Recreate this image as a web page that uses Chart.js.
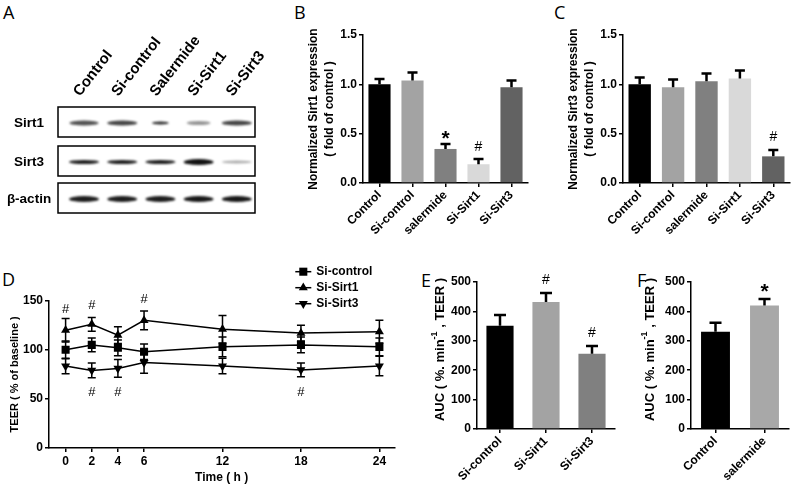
<!DOCTYPE html>
<html>
<head>
<meta charset="utf-8">
<script src="https://cdn.jsdelivr.net/npm/chart.js@4.4.0/dist/chart.umd.min.js"></script>
<style>
  body { margin: 0; background: #fff; }
  #wrap { position: relative; width: 796px; height: 485px; overflow: hidden; background: #fff; }
  canvas { position: absolute; }
  .letter { position: absolute; font-family: 'Open Sans', sans-serif; font-size: 18px; color: #000; line-height: 1; }
</style>
</head>
<body>
<div id="wrap">
  <div class="letter" style="left:3px;top:3px">A</div>
  <div class="letter" style="left:294px;top:3px">B</div>
  <div class="letter" style="left:554px;top:3px">C</div>
  <div class="letter" style="left:2px;top:270px">D</div>
  <div class="letter" style="left:421px;top:271px">E</div>
  <div class="letter" style="left:637px;top:271px">F</div>
  <canvas id="blot" width="280" height="230" style="left:0;top:0"></canvas>
  <canvas id="chartB" width="255" height="240" style="left:280px;top:0"></canvas>
  <canvas id="chartC" width="256" height="240" style="left:540px;top:0"></canvas>
  <canvas id="chartD" width="400" height="255" style="left:0;top:230px"></canvas>
  <canvas id="chartE" width="220" height="255" style="left:400px;top:230px"></canvas>
  <canvas id="chartF" width="186" height="255" style="left:610px;top:230px"></canvas>
</div>
<script>
// ---- A: western blot ----
const blotLanes = ['Control', 'Si-control', 'Salermide', 'Si-Sirt1', 'Si-Sirt3'];
const blotRows = ['Sirt1', 'Sirt3', 'β-actin'];
const bandSirt1 = [0.72, 0.78, 0.9, 0.45, 0.78];
const bandSirt3 = [0.95, 0.95, 0.95, 1.0, 0.35];
const bandActin = [0.95, 0.95, 0.95, 0.97, 0.97];
const bandWidthSirt1 = [29, 30, 17, 24, 30];

// ---- B / C: normalized expression ----
const groups = ['Control', 'Si-control', 'salermide', 'Si-Sirt1', 'Si-Sirt3'];
const groupColors = ['#000000', '#a3a3a3', '#808080', '#d9d9d9', '#626262'];
const sirt1Mean = [1.00, 1.04, 0.345, 0.19, 0.97];
const sirt1Err = [0.055, 0.08, 0.05, 0.053, 0.07];
const sirt1Sig = [[2, 0.49, '*'], [3, 0.365, '#']];
const sirt3Mean = [1.00, 0.97, 1.03, 1.06, 0.27];
const sirt3Err = [0.07, 0.08, 0.08, 0.08, 0.065];
const sirt3Sig = [[4, 0.46, '#']];

// ---- D: TEER time course ----
const hours = [0, 2, 4, 6, 12, 18, 24];
const teerSiControl = [100, 105, 102, 98, 103, 105, 103];
const teerSiControlErr = [9, 7, 8, 8, 10, 8, 9];
const teerSiSirt1 = [120, 126, 115, 130, 121, 117, 118.5];
const teerSiSirt1Err = [12, 7, 8.5, 9.5, 14, 8, 11.5];
const teerSiSirt3 = [83.5, 79, 81, 87, 83.5, 79.5, 83.5];
const teerSiSirt3Err = [8, 7.5, 9, 11, 8, 7, 10];
const teerSig = [[0, 141.5, '#'], [2, 145.5, '#'], [6, 151, '#'], [2, 56.5, '#'], [4, 56.5, '#'], [18, 56.5, '#']];

// ---- E / F: AUC ----
const aucGroupsE = ['Si-control', 'Si-Sirt1', 'Si-Sirt3'];
const aucColorsE = ['#000000', '#a3a3a3', '#808080'];
const aucE = [351, 432, 256];
const aucErrE = [37, 31, 26];
const aucSigE = [[1, 507, '#'], [2, 327, '#']];
const aucGroupsF = ['Control', 'salermide'];
const aucColorsF = ['#000000', '#a8a8a8'];
const aucF = [331, 420];
const aucErrF = [30, 22];
const aucSigF = [[1, 483, '*']];

const FAM = "'Liberation Sans', Arial, sans-serif";
const tickFont = { family: FAM, size: 12, weight: 'bold' };

// blot is a photo, drawn straight on its canvas
function drawBlot() {
  const ctx = document.getElementById('blot').getContext('2d');
  const boxX = 58, boxW = 197, boxH = 30, boxTops = [107, 146, 183];
  const lane0 = 84, laneStep = 38.2;
  ctx.fillStyle = '#000';
  ctx.font = "bold 15px " + FAM;
  ctx.textBaseline = 'alphabetic';
  blotLanes.forEach((t, i) => {
    ctx.save();
    ctx.translate(lane0 + i * laneStep - 4, 97);
    ctx.rotate(-52 * Math.PI / 180);
    ctx.fillText(t, 0, 0);
    ctx.restore();
  });
  const rows = [bandSirt1, bandSirt3, bandActin];
  const thick = [[5, 5, 3, 4, 5], [4, 4, 4, 6, 3], [6, 6, 6, 6, 6]];
  rows.forEach((bands, j) => {
    const top = boxTops[j];
    ctx.lineWidth = 1.5;
    ctx.strokeStyle = '#000';
    ctx.strokeRect(boxX, top, boxW, boxH);
    ctx.font = "bold 13.5px " + FAM;
    ctx.textAlign = 'center';
    ctx.textBaseline = 'middle';
    ctx.fillText(blotRows[j], 29, top + boxH / 2 + 1);
    bands.forEach((a, i) => {
      const w = j === 0 ? bandWidthSirt1[i] : 30;
      ctx.save();
      ctx.filter = 'blur(1.1px)';
      ctx.globalAlpha = a;
      ctx.fillStyle = '#111';
      ctx.beginPath();
      ctx.ellipse(lane0 + i * laneStep, top + boxH / 2 + 1, w / 2, thick[j][i] / 2, 0, 0, Math.PI * 2);
      ctx.fill();
      ctx.restore();
    });
  });
}
drawBlot();

// error bars through the chart scales
const errorBars = {
  id: 'errorBars',
  beforeDatasetsDraw(chart, args, opts) { if (opts.behind) draw(chart, opts); },
  afterDatasetsDraw(chart, args, opts) { if (!opts.behind) draw(chart, opts); }
};
function draw(chart, opts) {
  const { ctx } = chart;
  const ys = chart.scales.y;
  chart.data.datasets.forEach((ds, di) => {
    if (!ds.errors) return;
    const meta = chart.getDatasetMeta(di);
    ctx.save();
    ctx.strokeStyle = '#000';
    ctx.lineWidth = opts.width || 2;
    meta.data.forEach((el, i) => {
      const raw = ds.data[i];
      const v = typeof raw === 'object' ? raw.y : raw;
      const e = ds.errors[i];
      const yTop = ys.getPixelForValue(v + e);
      const yBot = opts.both ? ys.getPixelForValue(v - e) : ys.getPixelForValue(v);
      const c = opts.cap / 2;
      ctx.beginPath();
      ctx.moveTo(el.x, yBot); ctx.lineTo(el.x, yTop);
      ctx.moveTo(el.x - c, yTop); ctx.lineTo(el.x + c, yTop);
      if (opts.both) { ctx.moveTo(el.x - c, yBot); ctx.lineTo(el.x + c, yBot); }
      ctx.stroke();
    });
    ctx.restore();
  });
}

// # and * marks
const sigMarks = {
  id: 'sigMarks',
  afterDraw(chart, args, opts) {
    if (!opts.marks) return;
    const { ctx } = chart;
    const xs = chart.scales.x, ys = chart.scales.y;
    ctx.save();
    ctx.fillStyle = '#000';
    ctx.textAlign = 'center';
    ctx.textBaseline = 'middle';
    opts.marks.forEach(m => {
      const star = m[2] === '*';
      ctx.font = star ? "bold 21px " + FAM : (opts.small ? "13px " : "14px ") + FAM;
      ctx.fillText(m[2], xs.getPixelForValue(m[0]), ys.getPixelForValue(m[1]) + (star ? 5 : 0));
    });
    ctx.restore();
  }
};

// AUC title with superscript
const aucTitle = {
  id: 'aucTitle',
  afterDraw(chart, args, opts) {
    if (!opts.display) return;
    const { ctx, chartArea } = chart;
    const ys = chart.scales.y;
    const main = "bold 13px " + FAM, sup = "bold 9px " + FAM;
    const parts = [['AUC ( %. min', main, 0], ['-1', sup, -5], [' , TEER )', main, 0]];
    ctx.save();
    ctx.translate(ys.left + opts.offset, (chartArea.top + chartArea.bottom) / 2 + (opts.shift || 0));
    ctx.rotate(-Math.PI / 2);
    ctx.fillStyle = '#000';
    ctx.textBaseline = 'middle';
    ctx.textAlign = 'left';
    let total = 0;
    parts.forEach(p => { ctx.font = p[1]; total += ctx.measureText(p[0]).width; });
    let x = -total / 2;
    parts.forEach(p => { ctx.font = p[1]; ctx.fillText(p[0], x, p[2]); x += ctx.measureText(p[0]).width; });
    ctx.restore();
  }
};

// legend for D
const teerLegend = {
  id: 'teerLegend',
  afterDraw(chart, args, opts) {
    if (!opts.display) return;
    const { ctx, chartArea } = chart;
    const x0 = chartArea.right - 99, y0 = chartArea.top - 29;
    ctx.save();
    chart.data.datasets.forEach((ds, i) => {
      const y = y0 + i * 16;
      ctx.strokeStyle = '#000';
      ctx.lineWidth = 1.5;
      ctx.beginPath(); ctx.moveTo(x0, y); ctx.lineTo(x0 + 16, y); ctx.stroke();
      ctx.fillStyle = '#000';
      Chart.helpers.drawPoint(ctx, { pointStyle: ds.pointStyle, radius: ds.pointRadius, rotation: ds.pointRotation || 0, borderWidth: 0 }, x0 + 8, y);
      ctx.font = "bold 12px " + FAM;
      ctx.textBaseline = 'middle';
      ctx.textAlign = 'left';
      ctx.fillText(ds.label, x0 + 21, y);
    });
    ctx.restore();
  }
};

Chart.register(errorBars, sigMarks, aucTitle, teerLegend);

function axisGrid() {
  return { display: true, drawOnChartArea: false, drawTicks: true, tickLength: 4, color: '#000', lineWidth: 1.5, offset: false };
}

function barChart(id, labels, values, errs, colors, o) {
  return new Chart(document.getElementById(id), {
    type: 'bar',
    data: { labels, datasets: [{ data: values, errors: errs, backgroundColor: colors, barPercentage: o.barPct, categoryPercentage: 1 }] },
    options: {
      responsive: false, animation: false, devicePixelRatio: 1,
      layout: { padding: { top: o.top, right: o.right, left: 0, bottom: 0 } },
      plugins: {
        legend: { display: false }, tooltip: { enabled: false },
        errorBars: { width: 2.5, cap: o.cap, both: false },
        sigMarks: { marks: o.marks },
        aucTitle: { display: !!o.auc, offset: o.aucOffset || 0, shift: o.aucShift || 0 }
      },
      scales: {
        x: {
          grid: axisGrid(), border: { color: '#000', width: 1.5 },
          ticks: { color: '#000', font: tickFont, maxRotation: 45, minRotation: 45, padding: 1, autoSkip: false },
          afterFit: s => { s.height = o.xh; }
        },
        y: {
          min: 0, max: o.max,
          grid: axisGrid(), border: { color: '#000', width: 1.5 },
          ticks: { color: '#000', font: tickFont, stepSize: o.step, padding: 2, callback: o.fmt },
          title: o.title ? { display: true, text: o.title, color: '#000', font: { family: FAM, size: 12, weight: 'bold', lineHeight: 1.3 }, padding: { top: 26, bottom: 0 } } : { display: false },
          afterFit: s => { s.width = o.yw; }
        }
      }
    }
  });
}

const fmt1 = v => v.toFixed(1);

barChart('chartB', groups, sirt1Mean, sirt1Err, groupColors, {
  top: 35, right: 7, xh: 57, yw: 83, max: 1.5, step: 0.5, fmt: fmt1, barPct: 0.67, cap: 10,
  marks: sirt1Sig, title: ['Normalized Sirt1 expression', '( fold of control )']
});
barChart('chartC', groups, sirt3Mean, sirt3Err, groupColors, {
  top: 35, right: 6, xh: 57, yw: 83, max: 1.5, step: 0.5, fmt: fmt1, barPct: 0.67, cap: 10,
  marks: sirt3Sig, title: ['Normalized Sirt3 expression', '( fold of control )']
});
barChart('chartE', aucGroupsE, aucE, aucErrE, aucColorsE, {
  top: 52, right: 5, xh: 56, yw: 77, max: 500, step: 100, fmt: v => v, barPct: 0.59, cap: 12,
  marks: aucSigE, auc: true, aucOffset: 40, aucShift: -6
});
barChart('chartF', aucGroupsF, aucF, aucErrF, aucColorsF, {
  top: 52, right: 7, xh: 56, yw: 81, max: 500, step: 100, fmt: v => v, barPct: 0.59, cap: 12,
  marks: aucSigF, auc: true, aucOffset: 40, aucShift: -6
});

// D: line chart
function series(vals) { return hours.map((h, i) => ({ x: h, y: vals[i] })); }
const lineBase = { borderColor: '#000', backgroundColor: '#000', borderWidth: 1.5, pointBorderWidth: 0, tension: 0 };
new Chart(document.getElementById('chartD'), {
  type: 'line',
  data: {
    datasets: [
      Object.assign({ label: 'Si-control', data: series(teerSiControl), errors: teerSiControlErr, pointStyle: 'rect', pointRadius: 5.7 }, lineBase),
      Object.assign({ label: 'Si-Sirt1', data: series(teerSiSirt1), errors: teerSiSirt1Err, pointStyle: 'triangle', pointRadius: 5.2 }, lineBase),
      Object.assign({ label: 'Si-Sirt3', data: series(teerSiSirt3), errors: teerSiSirt3Err, pointStyle: 'triangle', pointRotation: 180, pointRadius: 5.2 }, lineBase)
    ]
  },
  options: {
    responsive: false, animation: false, devicePixelRatio: 1,
    layout: { padding: { top: 70.7, right: 4, left: 0, bottom: 0 } },
    plugins: {
      legend: { display: false }, tooltip: { enabled: false },
      errorBars: { behind: true, both: true, width: 1.5, cap: 8 },
      sigMarks: { marks: teerSig, small: true },
      teerLegend: { display: true }
    },
    scales: {
      x: {
        type: 'linear', min: -1.27, max: 25.14,
        grid: axisGrid(), border: { color: '#000', width: 1.5 },
        ticks: { color: '#000', font: tickFont, padding: 2 },
        afterBuildTicks: s => { s.ticks = hours.map(v => ({ value: v })); },
        title: { display: true, text: 'Time ( h )', color: '#000', font: { family: FAM, size: 12, weight: 'bold', lineHeight: 1.1 }, padding: { top: 0, bottom: 1 } },
        afterFit: s => { s.height = 37; }
      },
      y: {
        min: 0, max: 150,
        grid: axisGrid(), border: { color: '#000', width: 1.5 },
        ticks: { color: '#000', font: tickFont, stepSize: 50, padding: 2 },
        title: { display: true, text: 'TEER ( % of baseline )', color: '#000', font: { family: FAM, size: 11, weight: 'bold', lineHeight: 1.1 }, padding: { top: 9, bottom: 0 } },
        afterFit: s => { s.width = 49; }
      }
    }
  }
});
</script>
</body>
</html>
